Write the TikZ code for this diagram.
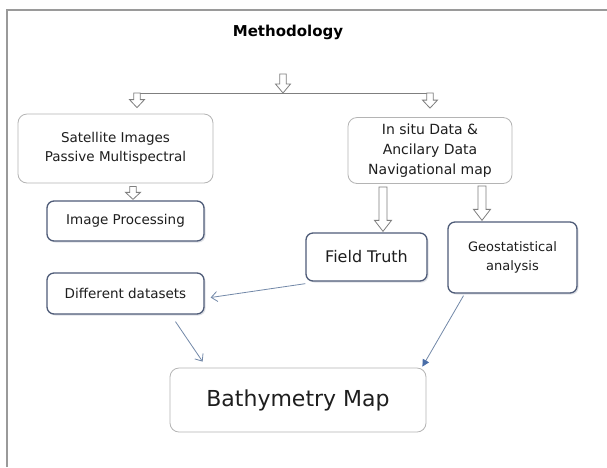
\documentclass[tikz,border=0pt]{standalone}
\usepackage{fontspec}
\setmainfont{DejaVu Sans}
\usetikzlibrary{arrows.meta,calc,shadows}
\definecolor{framegray}{HTML}{9A9A9A}
\definecolor{lightborder}{HTML}{B4B4B4}
\definecolor{darkborder}{HTML}{4F5C78}
\definecolor{connblue}{HTML}{7288A8}
\definecolor{tipblue}{HTML}{4A6EA8}
\definecolor{hollowgray}{HTML}{7F7F7F}
\definecolor{textdark}{HTML}{1E1E1E}
\newcommand{\hollowarrow}[5]{%
  \path[draw=hollowgray,fill=white,line width=0.8pt,line join=miter]
    let \p1=#1, \p2=#2 in
    (\x1-#3,\y1) -- (\x1-#3,\y2+#5) -- (\x1-#4,\y2+#5) -- (\x1,\y2) --
    (\x1+#4,\y2+#5) -- (\x1+#3,\y2+#5) -- (\x1+#3,\y1) -- cycle;}
\begin{document}
\begin{tikzpicture}[x=1pt,y=-1pt,
  lightbox/.style={draw=lightborder,line width=0.8pt,rounded corners=9pt,fill=white,align=center,text=textdark,inner sep=0pt},
  darkbox/.style={draw=darkborder,line width=1.3pt,rounded corners=7pt,fill=white,align=center,text=textdark,inner sep=0pt,
    drop shadow={opacity=0.18,shadow xshift=1.5pt,shadow yshift=-1.5pt,fill=darkborder}},
  conn/.style={draw=connblue,line width=0.8pt,-{Straight Barb[length=6pt,width=10pt]}},
  connfill/.style={draw=connblue,line width=0.8pt,-{Triangle[length=7pt,width=7pt,fill=tipblue,color=tipblue]}},
  bar/.style={draw=hollowgray,line width=0.8pt}]
\useasboundingbox (0,0) rectangle (607,467);
\fill[white] (0,0) rectangle (607,467);
% frame
\draw[framegray,line width=1.6pt] (7,467) -- (7,10) -- (607,10);

% title
\node[font=\fontsize{15}{18}\selectfont\bfseries,text=black] (title) at (288,32) {Methodology};

% boxes
\node[lightbox,minimum width=195pt,minimum height=69pt,font=\fontsize{13.5}{19}\selectfont] (sat) at (115.5,148.5) {Satellite Images\\Passive Multispectral};
\node[darkbox,minimum width=157pt,minimum height=40pt,font=\fontsize{13.5}{16}\selectfont] (ip) at (125.5,221) {Image Processing};
\node[lightbox,minimum width=164pt,minimum height=66pt,font=\fontsize{14}{20}\selectfont] (ins) at (430,150.5) {In situ Data \&\\Ancilary Data\\Navigational map};
\node[darkbox,minimum width=121pt,minimum height=48pt,font=\fontsize{16}{19}\selectfont] (ft) at (366.5,257) {Field Truth};
\node[darkbox,minimum width=129pt,minimum height=71pt,font=\fontsize{13}{19}\selectfont] (geo) at (512.5,257.5) {Geostatistical\\analysis};
\node[darkbox,minimum width=157pt,minimum height=41pt,font=\fontsize{13.5}{16}\selectfont] (dd) at (125.5,293.5) {Different datasets};
\node[lightbox,minimum width=256pt,minimum height=64pt,font=\fontsize{22}{26}\selectfont] (bm) at (298,400) {Bathymetry Map};

% branching hollow arrows
\coordinate (topA) at (283,74);
\coordinate (topB) at (283,93);
\coordinate (barL) at (137,93);
\coordinate (barR) at (430,93);
\draw[bar] (barL) -- (barR);
\hollowarrow{(topA)}{(topB)}{3.2pt}{7.5pt}{9pt}
\hollowarrow{(barL)}{($(sat.north)+(21.5,-6)$)}{3.2pt}{7.5pt}{8pt}
\hollowarrow{(barR)}{($(ins.north)+(0,-9)$)}{3.2pt}{7.5pt}{8pt}
\hollowarrow{($(sat.south)+(17.5,3)$)}{($(ip.north)+(7.5,-1)$)}{3.2pt}{7.5pt}{7pt}
\hollowarrow{($(ins.south)+(-47,3)$)}{($(ft.north)+(16.5,-1)$)}{4pt}{8.5pt}{11pt}
\hollowarrow{($(ins.south)+(52,2)$)}{($(geo.north)+(-30.5,-1)$)}{4pt}{8.5pt}{11pt}

% connectors
\draw[conn] ($(ft.south west)+(0,2)$) -- ($(dd.east)+(6,4)$);
\draw[conn] ($(dd.south)+(50,7)$) -- ($(bm.north west)+(33,-6)$);
\draw[connfill] ($(geo.south)+(-49,2)$) -- ($(bm.north east)+(-4,-1)$);
\end{tikzpicture}
\end{document}
